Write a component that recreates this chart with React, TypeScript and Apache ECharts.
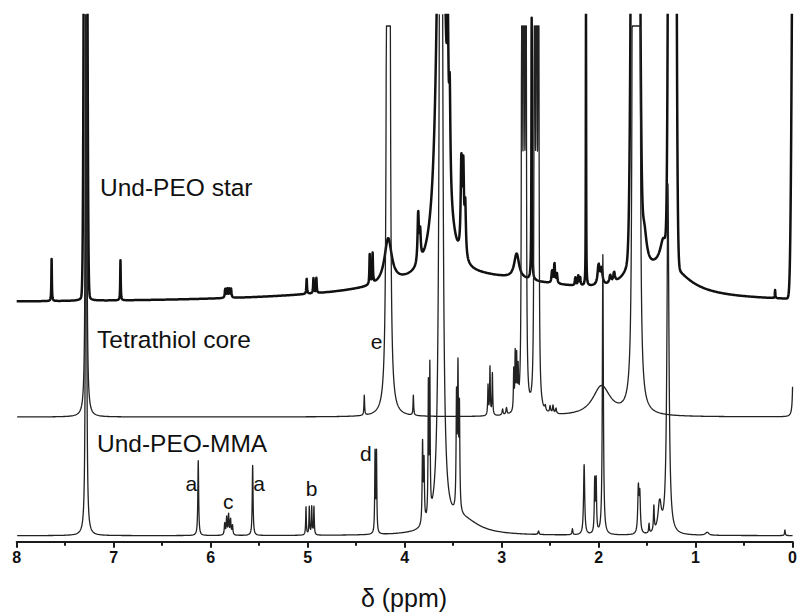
import React, { useEffect, useRef } from "react";
import * as echarts from "echarts";

// x axis (ppm), reversed
const PPM_MIN = 0;
const PPM_MAX = 8;
const PPM_TICKS = [0, 1, 2, 3, 4, 5, 6, 7, 8];

// Peak lists: [centre ppm, height (px above baseline), width (ppm), shape 0=Lorentzian 1=Gaussian]
type Peak = [number, number, number, number];

// Und-PEO star (top trace)
const STAR_BASELINE = 238.7;
const STAR_PEAKS: Peak[] = [
  [3.3, 25, 1.2, 0],
  [1.3, 30, 0.25, 0],
  [7.64, 42, 0.003, 0],
  [7.29, 1200, 0.012, 1],
  [7.29, 30, 0.015, 0],
  [6.93, 40, 0.003, 0],
  [5.85, 9, 0.005, 0],
  [5.83, 9, 0.005, 0],
  [5.81, 9, 0.005, 0],
  [5.79, 9, 0.005, 0],
  [5.01, 15, 0.004, 0],
  [4.94, 15, 0.004, 0],
  [4.91, 15, 0.004, 0],
  [4.36, 30, 0.004, 0],
  [4.33, 30, 0.004, 0],
  [4.17, 45, 0.045, 0],
  [3.86, 50, 0.008, 0],
  [3.84, 28, 0.008, 0],
  [3.625, 640, 0.038, 0],
  [3.555, 120, 0.008, 0],
  [3.535, 90, 0.008, 0],
  [3.415, 90, 0.008, 0],
  [3.395, 85, 0.008, 0],
  [3.375, 50, 0.008, 0],
  [2.845, 25, 0.03, 0],
  [2.69, 262, 0.003, 0],
  [2.48, 12, 0.006, 0],
  [2.455, 20, 0.006, 0],
  [2.43, 10, 0.006, 0],
  [2.24, 8, 0.005, 0],
  [2.21, 10, 0.005, 0],
  [2.19, 8, 0.005, 0],
  [2.13, 275, 0.002, 0],
  [2.0, 20, 0.012, 0],
  [1.97, 16, 0.012, 0],
  [1.88, 8, 0.01, 0],
  [1.84, 10, 0.01, 0],
  [1.62, 2000, 0.025, 1],
  [1.62, 40, 0.08, 0],
  [1.53, 35, 0.03, 0],
  [1.33, 25, 0.04, 0],
  [1.24, 4000, 0.02, 1],
  [0.18, 8, 0.003, 0],
  [-0.015, 600, 0.018, 1],
];

// Tetrathiol core (middle trace)
const CORE_BASELINE = 124.7;
const CORE_CAP = 515.7;
const CORE_PEAKS: Peak[] = [
  [7.285, 1500, 0.004, 0],
  [4.416, 20, 0.004, 0],
  [4.178, 1500, 0.006, 0],
  [4.158, 1500, 0.006, 0],
  [3.91, 20, 0.004, 0],
  [3.14, 30, 0.004, 0],
  [3.12, 48, 0.004, 0],
  [3.095, 42, 0.004, 0],
  [2.99, 6, 0.006, 0],
  [2.95, 7, 0.006, 0],
  [2.875, 40, 0.004, 0],
  [2.86, 55, 0.004, 0],
  [2.845, 50, 0.004, 0],
  [2.83, 35, 0.004, 0],
  [2.79, 1500, 0.003, 0],
  [2.77, 1500, 0.003, 0],
  [2.75, 1500, 0.003, 0],
  [2.66, 1500, 0.003, 0],
  [2.64, 1500, 0.003, 0],
  [2.62, 1500, 0.003, 0],
  [2.55, 5, 0.006, 0],
  [2.5, 7, 0.006, 0],
  [2.47, 8, 0.006, 0],
  [2.44, 6, 0.006, 0],
  [1.97, 30, 0.11, 0],
  [1.645, 1200, 0.006, 0],
  [1.625, 1200, 0.006, 0],
  [1.6, 1200, 0.006, 0],
  [1.58, 1200, 0.006, 0],
  [-0.01, 150, 0.005, 0],
];

// Und-PEO-MMA (bottom trace)
const MMA_BASELINE = 6;
const MMA_PEAKS: Peak[] = [
  [7.285, 1200, 0.004, 0],
  [6.128, 75, 0.005, 0],
  [5.855, 12, 0.005, 0],
  [5.835, 18, 0.005, 0],
  [5.815, 20, 0.005, 0],
  [5.795, 16, 0.005, 0],
  [5.775, 10, 0.005, 0],
  [5.567, 70, 0.005, 0],
  [5.017, 28, 0.004, 0],
  [4.983, 28, 0.004, 0],
  [4.958, 28, 0.004, 0],
  [4.935, 28, 0.004, 0],
  [4.305, 80, 0.004, 0],
  [4.29, 80, 0.004, 0],
  [3.815, 80, 0.005, 0],
  [3.8, 60, 0.005, 0],
  [3.755, 130, 0.004, 0],
  [3.74, 145, 0.004, 0],
  [3.625, 1600, 0.012, 0],
  [3.465, 110, 0.005, 0],
  [3.45, 135, 0.005, 0],
  [3.435, 100, 0.005, 0],
  [3.4, 15, 0.2, 0],
  [2.62, 4, 0.005, 0],
  [2.27, 6, 0.005, 0],
  [2.149, 70, 0.007, 0],
  [2.04, 52, 0.005, 0],
  [2.025, 52, 0.005, 0],
  [1.956, 280, 0.006, 0],
  [1.59, 45, 0.007, 0],
  [1.575, 38, 0.007, 0],
  [1.48, 10, 0.004, 0],
  [1.43, 25, 0.005, 0],
  [1.37, 30, 0.02, 0],
  [1.285, 350, 0.012, 0],
  [0.88, 3, 0.02, 0],
  [0.079, 6, 0.004, 0],
];

// Trace names and peak-assignment letters
const TRACE_LABELS: { text: string; x: number; y: number }[] = [
  { text: "Und-PEO star", x: 100, y: 187 },
  { text: "Tetrathiol core", x: 97, y: 339 },
  { text: "Und-PEO-MMA", x: 97, y: 443 },
];
const PEAK_LETTERS: { text: string; ppm: number; y: number }[] = [
  { text: "a", ppm: 6.2, y: 483 },
  { text: "c", ppm: 5.82, y: 501 },
  { text: "a", ppm: 5.5, y: 483 },
  { text: "b", ppm: 4.96, y: 488 },
  { text: "d", ppm: 4.4, y: 453 },
  { text: "e", ppm: 4.29, y: 341 },
];

const FONT = '"Liberation Sans", Arial, Helvetica, sans-serif';
const GRID_LEFT = 16.7;
const GRID_RIGHT = 7.3;
const GRID_TOP = 15;
const GRID_BOTTOM = 73.3;
const Y_MAX = 526.7;

function buildTrace(peaks: Peak[], base: number, cap: number): number[][] {
  const pts: number[][] = [];
  const n = 8000;
  for (let i = 0; i <= n; i++) {
    const x = PPM_MIN + ((PPM_MAX - PPM_MIN) * i) / n;
    let y = base;
    for (const [c, h, w, g] of peaks) {
      const d = x - c;
      if (g) y += h * Math.exp((-d * d) / (2 * w * w));
      else y += (h * w * w) / (d * d + w * w);
    }
    pts.push([x, Math.min(y, cap)]);
  }
  return pts;
}

export default function App() {
  const ref = useRef<HTMLDivElement>(null);
  useEffect(() => {
    if (!ref.current) return;
    const chart = echarts.init(ref.current, undefined, { renderer: "svg" });
    const plotW = 800 - GRID_LEFT - GRID_RIGHT;
    const ppmToPx = (p: number) => GRID_LEFT + ((PPM_MAX - p) / (PPM_MAX - PPM_MIN)) * plotW;
    const line = (data: number[][], width: number, color: string) => ({
      type: "line",
      data,
      showSymbol: false,
      symbol: "none",
      clip: true,
      silent: true,
      lineStyle: { width, color, join: "round" },
    });
    chart.setOption({
      animation: false,
      backgroundColor: "#ffffff",
      grid: { left: GRID_LEFT, right: GRID_RIGHT, top: GRID_TOP, bottom: GRID_BOTTOM },
      xAxis: {
        type: "value",
        min: PPM_MIN,
        max: PPM_MAX,
        interval: 1,
        inverse: true,
        axisLine: { show: true, lineStyle: { color: "#1a1a1a", width: 2 } },
        axisTick: { show: true, inside: false, length: 6, lineStyle: { color: "#1a1a1a", width: 2 } },
        minorTick: { show: true, splitNumber: 2, length: 4, lineStyle: { color: "#1a1a1a", width: 2 } },
        splitLine: { show: false },
        axisLabel: {
          show: true,
          margin: 8,
          fontSize: 16,
          fontWeight: "bold",
          fontFamily: FONT,
          color: "#111",
          formatter: (v: number) => (PPM_TICKS.includes(v) ? String(v) : ""),
        },
      },
      yAxis: {
        type: "value",
        min: 0,
        max: Y_MAX,
        show: false,
        splitLine: { show: false },
      },
      series: [
        line(buildTrace(STAR_PEAKS, STAR_BASELINE, 1e6), 2.5, "#111"),
        line(buildTrace(CORE_PEAKS, CORE_BASELINE, CORE_CAP), 1.3, "#222"),
        line(buildTrace(MMA_PEAKS, MMA_BASELINE, 1e6), 1.3, "#222"),
      ],
      graphic: [
        ...TRACE_LABELS.map((l) => ({
          type: "text",
          x: l.x,
          y: l.y,
          silent: true,
          style: {
            text: l.text,
            fontSize: 24.5,
            fontFamily: FONT,
            fill: "#111",
            textAlign: "left",
            textVerticalAlign: "middle",
          },
        })),
        ...PEAK_LETTERS.map((l) => ({
          type: "text",
          x: ppmToPx(l.ppm),
          y: l.y,
          silent: true,
          style: {
            text: l.text,
            fontSize: 21,
            fontFamily: FONT,
            fill: "#111",
            textAlign: "center",
            textVerticalAlign: "middle",
          },
        })),
        {
          type: "text",
          x: 404,
          y: 598,
          silent: true,
          style: {
            text: "δ (ppm)",
            fontSize: 25,
            fontFamily: FONT,
            fill: "#111",
            textAlign: "center",
            textVerticalAlign: "middle",
          },
        },
      ],
    });
    return () => chart.dispose();
  }, []);
  return (
    <div
      ref={ref}
      style={{ position: "fixed", left: 0, top: 0, width: 800, height: 615, background: "#fff" }}
    />
  );
}
